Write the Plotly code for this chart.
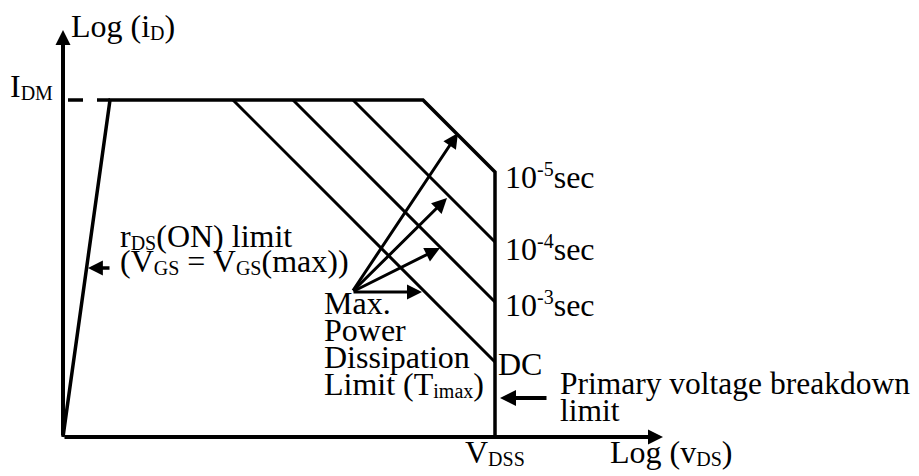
import plotly.graph_objects as go

# ---- Diagram data (log-log units; origin at axes crossing) ----
X_AXIS_END = 600          # end of Log(vDS) axis
Y_AXIS_TOP = 407          # end of Log(iD) axis
I_DM = 337                # max pulsed drain current level
V_DSS = 432               # primary breakdown voltage
RDS_TOP_X = 47            # rDS(ON) limit meets I_DM
IDM_DASH_START = 5        # dashed part of I_DM line starts here
PULSE_NAMES = ["DC", "10ms", "100us", "10us"]
PULSE_START_X = [170, 230, 290, 360]   # where each constant-power line leaves I_DM

# Max. power dissipation pointer arrows
ARROW_ORIGIN_X = 289
ARROW_ORIGIN_Y = 145
ARROW_TIP_X = [359, 377, 384, 395]
ARROW_TIP_Y = [145, 189, 239, 304]

# other pointer arrows: (tail_x, tail_y, head_x, head_y)
RDS_ARROW = (48, 169, 25, 169)
BREAKDOWN_ARROW = (485, 39, 437, 39)

# view window (page body has an 8px margin, compensated here)
X_MIN, X_MAX = -55, 864
Y_MIN, Y_MAX = -47, 429

FONT = "'Liberation Serif', 'Times New Roman', 'DejaVu Serif', serif"
FS = 32
BASE_OFF = 10.8  # center-to-baseline offset
TEXT_DX = -3


def sub(s):
    return f'<span style="font-size:20px;baseline-shift:-3px">{s}</span>'


def sup(s):
    return f'<span style="font-size:20px;baseline-shift:12px">{s}</span>'


# label text, left x (diagram units), baseline y (diagram units), font size
LABELS = [
    ("Log (i" + sub("D") + ")", 10, 400, FS),
    ("I" + sub("DM"), -51, 340, FS),
    ("10" + sup("-5") + "sec", 444, 250, FS),
    ("10" + sup("-4") + "sec", 444, 178, FS),
    ("10" + sup("-3") + "sec", 444, 122, FS),
    ("DC", 437, 62, FS),
    ("Primary voltage breakdown", 499, 43, 31.5),
    ("limit", 499, 16, 31.5),
    ("V" + sub("DSS"), 404, -26, FS),
    ("Log (v" + sub("DS") + ")", 549, -26, FS),
    ("r" + sub("DS") + "(ON) limit", 59, 190, FS),
    ("(V" + sub("GS") + " = V" + sub("GS") + "(max))", 59, 165, FS),
    ("Max.", 263, 123, FS),
    ("Power", 263, 96, FS),
    ("Dissipation", 263, 69, FS),
    ("Limit (T" + sub("imax") + ")", 263, 42, FS),
]

fig = go.Figure()

# outline: rDS(ON) limit -> I_DM -> 10us line -> V_DSS down to axis
last_start = PULSE_START_X[-1]
outline_x = [0, RDS_TOP_X, last_start, V_DSS, V_DSS]
outline_y = [0, I_DM, I_DM, I_DM - (V_DSS - last_start), 0]
fig.add_trace(go.Scatter(x=outline_x, y=outline_y, mode="lines",
                         line=dict(color="black", width=3.5), hoverinfo="skip"))

# constant power (slope -1) lines for longer pulses
for sx in PULSE_START_X[:-1]:
    fig.add_trace(go.Scatter(x=[sx, V_DSS], y=[I_DM, I_DM - (V_DSS - sx)], mode="lines",
                             line=dict(color="black", width=3), hoverinfo="skip"))

# dashed I_DM extension to the axis
fig.add_trace(go.Scatter(x=[IDM_DASH_START, RDS_TOP_X], y=[I_DM, I_DM], mode="lines",
                         line=dict(color="black", width=3.5, dash="15px,14px"),
                         hoverinfo="skip"))

annotations = []


def arrow(tx, ty, hx, hy, width, size):
    annotations.append(dict(x=hx, y=hy, ax=tx, ay=ty, xref="x", yref="y",
                            axref="x", ayref="y", text="", showarrow=True,
                            arrowhead=2, arrowwidth=width, arrowsize=size,
                            arrowcolor="black", standoff=0, startstandoff=0))


# axes
arrow(0, 0, 0, Y_AXIS_TOP, 4, 0.75)
arrow(0, 0, X_AXIS_END, 0, 4, 0.75)

# power dissipation pointers
for hx, hy in zip(ARROW_TIP_X, ARROW_TIP_Y):
    arrow(ARROW_ORIGIN_X, ARROW_ORIGIN_Y, hx, hy, 3, 1.0)

arrow(*RDS_ARROW, 3.5, 0.85)
arrow(*BREAKDOWN_ARROW, 4, 0.8)

for txt, lx, by, fs in LABELS:
    annotations.append(dict(x=lx + TEXT_DX, y=by + BASE_OFF, xref="x", yref="y", text=txt,
                            showarrow=False, xanchor="left", yanchor="middle",
                            font=dict(family=FONT, size=fs, color="black"),
                            borderpad=0))

fig.update_layout(
    width=919, height=476,
    margin=dict(l=0, r=0, t=0, b=0),
    paper_bgcolor="white", plot_bgcolor="white",
    showlegend=False,
    xaxis=dict(range=[X_MIN, X_MAX], visible=False, fixedrange=True),
    yaxis=dict(range=[Y_MIN, Y_MAX], visible=False, fixedrange=True),
    annotations=annotations,
)

fig.write_html("out.html")
